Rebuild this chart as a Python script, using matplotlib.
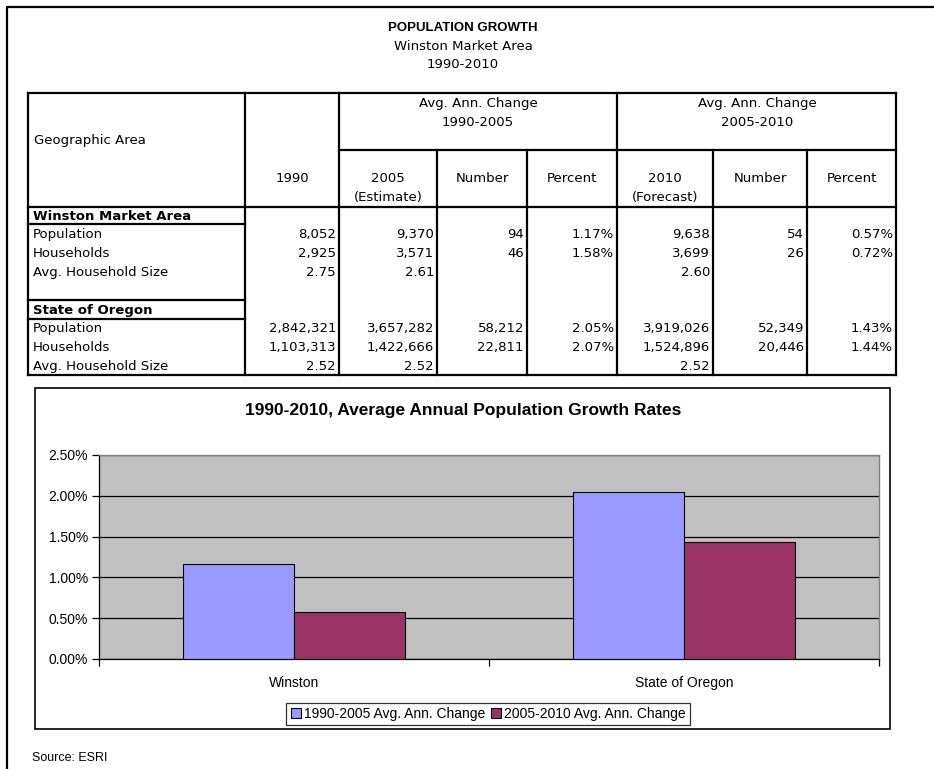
import matplotlib
matplotlib.use("Agg")
import matplotlib.pyplot as plt
import numpy as np

# ---- table data ----
row_labels = ["Population", "Households", "Avg. Household Size"]
areas = ["Winston Market Area", "State of Oregon"]
col_1990 = [[8052, 2925, 2.75], [2842321, 1103313, 2.52]]
col_2005 = [[9370, 3571, 2.61], [3657282, 1422666, 2.52]]
num_9005 = [[94, 46, None], [58212, 22811, None]]
pct_9005 = [[1.17, 1.58, None], [2.05, 2.07, None]]
col_2010 = [[9638, 3699, 2.60], [3919026, 1524896, 2.52]]
num_0510 = [[54, 26, None], [52349, 20446, None]]
pct_0510 = [[0.57, 0.72, None], [1.43, 1.44, None]]

# ---- chart data ----
chart_cats = ["Winston", "State of Oregon"]
series_names = ["1990-2005 Avg. Ann. Change", "2005-2010 Avg. Ann. Change"]
series_vals = [[pct_9005[0][0], pct_9005[1][0]], [pct_0510[0][0], pct_0510[1][0]]]
series_colors = ["#9999FF", "#993366"]
y_ticks = [0.0, 0.5, 1.0, 1.5, 2.0, 2.5]

W, H = 934, 769
TF = "DejaVu Sans"
NARROW = ["Liberation Sans Narrow", "Liberation Sans"]
ARIAL = "Liberation Sans"


def fmt(v, kind):
    if v is None:
        return ""
    if kind == "pct":
        return "%.2f%%" % v
    if isinstance(v, float):
        return "%.2f" % v
    return "{:,}".format(v)


fig = plt.figure(figsize=(W / 100, H / 100), dpi=100)
bg = fig.add_axes([0, 0, 1, 1])
bg.set_xlim(0, W)
bg.set_ylim(H, 0)
bg.axis("off")

# page border
bg.plot([7, 7, W], [H, 7, 7], color="black", lw=1.6)

# titles
bg.text(463, 28, "POPULATION GROWTH", ha="center", va="center", family=ARIAL,
        fontweight="bold", fontsize=9.5)
bg.text(463, 47, "Winston Market Area", ha="center", va="center", family=TF, fontsize=9.5)
bg.text(463, 65, "1990-2010", ha="center", va="center", family=TF, fontsize=9.5)

# table grid
edges = [28, 245, 339, 437, 527, 617, 713, 807, 896]
t_top, t_mid, t_head, t_bot = 93, 150, 207, 375
lw = 1.6


def hl(y, x0, x1):
    bg.plot([x0, x1], [y, y], color="black", lw=lw, solid_capstyle="projecting")


def vl(x, y0, y1):
    bg.plot([x, x], [y0, y1], color="black", lw=lw, solid_capstyle="projecting")


hl(t_top, edges[0], edges[-1])
hl(t_mid, edges[2], edges[-1])
hl(t_head, edges[0], edges[-1])
hl(t_bot, edges[0], edges[-1])
for x in [edges[0], edges[1], edges[2], edges[5], edges[8]]:
    vl(x, t_top, t_bot)
for x in [edges[3], edges[4], edges[6], edges[7]]:
    vl(x, t_mid, t_bot)
# area name boxes
hl(224, edges[0], edges[1])
hl(300, edges[0], edges[1])
hl(319, edges[0], edges[1])

fs = 9.5
off = 4  # baseline offset below row centre
bg.text(34, 140 + off, "Geographic Area", ha="left", va="baseline", family=TF, fontsize=fs)
bg.text(478, 103 + off, "Avg. Ann. Change", ha="center", va="baseline", family=TF, fontsize=fs)
bg.text(478, 122 + off, "1990-2005", ha="center", va="baseline", family=TF, fontsize=fs)
bg.text(757, 103 + off, "Avg. Ann. Change", ha="center", va="baseline", family=TF, fontsize=fs)
bg.text(757, 122 + off, "2005-2010", ha="center", va="baseline", family=TF, fontsize=fs)

heads = [("1990",), ("2005", "(Estimate)"), ("Number",), ("Percent",),
         ("2010", "(Forecast)"), ("Number",), ("Percent",)]
for i, h in enumerate(heads):
    cx = (edges[i + 1] + edges[i + 2]) / 2
    for j, s in enumerate(h):
        bg.text(cx, 178 + off + 19 * j, s, ha="center", va="baseline", family=TF, fontsize=fs)

columns = [(col_1990, "n"), (col_2005, "n"), (num_9005, "n"), (pct_9005, "pct"),
           (col_2010, "n"), (num_0510, "n"), (pct_0510, "pct")]
area_y = [216, 310]
for a, name in enumerate(areas):
    bg.text(33, area_y[a] + off, name, ha="left", va="baseline", family=TF, fontsize=fs,
            fontweight="bold")
    for r, lab in enumerate(row_labels):
        y = area_y[a] + 18 + 19 * r + off
        bg.text(33, y, lab, ha="left", va="baseline", family=TF, fontsize=fs)
        for c, (col, kind) in enumerate(columns):
            bg.text(edges[c + 2] - 3, y, fmt(col[a][r], kind), ha="right", va="baseline",
                    family=TF, fontsize=fs)

# chart frame
bg.add_patch(plt.Rectangle((35, 388), 890 - 35, 729 - 388, fill=False, ec="black", lw=1.2))
bg.text(463, 411, "1990-2010, Average Annual Population Growth Rates", ha="center",
        va="center", family=ARIAL, fontweight="bold", fontsize=12.5)
bg.text(32, 758, "Source: ESRI", ha="left", va="center", family=NARROW, fontsize=9)

# bar chart
pl, pr, pt, pb = 99, 879, 455, 659
ax = fig.add_axes([pl / W, 1 - pb / H, (pr - pl) / W, (pb - pt) / H])
ax.set_facecolor("#C0C0C0")
x = np.arange(len(chart_cats))
bw = 0.285
for k in range(len(series_names)):
    ax.bar(x + (k - 0.5) * bw, series_vals[k], bw, color=series_colors[k],
           edgecolor="black", linewidth=0.8, label=series_names[k], zorder=3)
ax.set_xlim(-0.5, len(chart_cats) - 0.5)
ax.set_ylim(0, 2.5)
ax.set_yticks(y_ticks)
ax.set_yticklabels(["%.2f%%" % v for v in y_ticks], family=ARIAL, fontsize=10)
ax.yaxis.grid(True, color="black", lw=0.9, zorder=1)
ax.set_axisbelow(True)
ax.set_xticks(x)
ax.set_xticklabels(chart_cats, family=NARROW, fontsize=10)
ax.tick_params(axis="x", length=0, pad=12)
ax.set_xticks([-0.5, 0.5, 1.5], minor=True)
ax.tick_params(axis="x", which="minor", length=5, direction="out", width=0.9)
ax.tick_params(axis="y", length=5, direction="out", width=0.9, pad=3)
for s in ["left", "bottom"]:
    ax.spines[s].set_color("black")
    ax.spines[s].set_linewidth(0.9)
for s in ["top", "right"]:
    ax.spines[s].set_color("#808080")
    ax.spines[s].set_linewidth(1.0)

leg = ax.legend(loc="center", bbox_to_anchor=(488 / W, 1 - 714 / H),
                bbox_transform=fig.transFigure, ncol=2, frameon=True, fancybox=False,
                edgecolor="black", handlelength=0.75, handleheight=0.75,
                handletextpad=0.2, columnspacing=0.4, borderpad=0.3, borderaxespad=0,
                prop={"family": NARROW, "size": 10})
leg.get_frame().set_linewidth(0.9)

fig.savefig("out.png", dpi=100, facecolor="white")
